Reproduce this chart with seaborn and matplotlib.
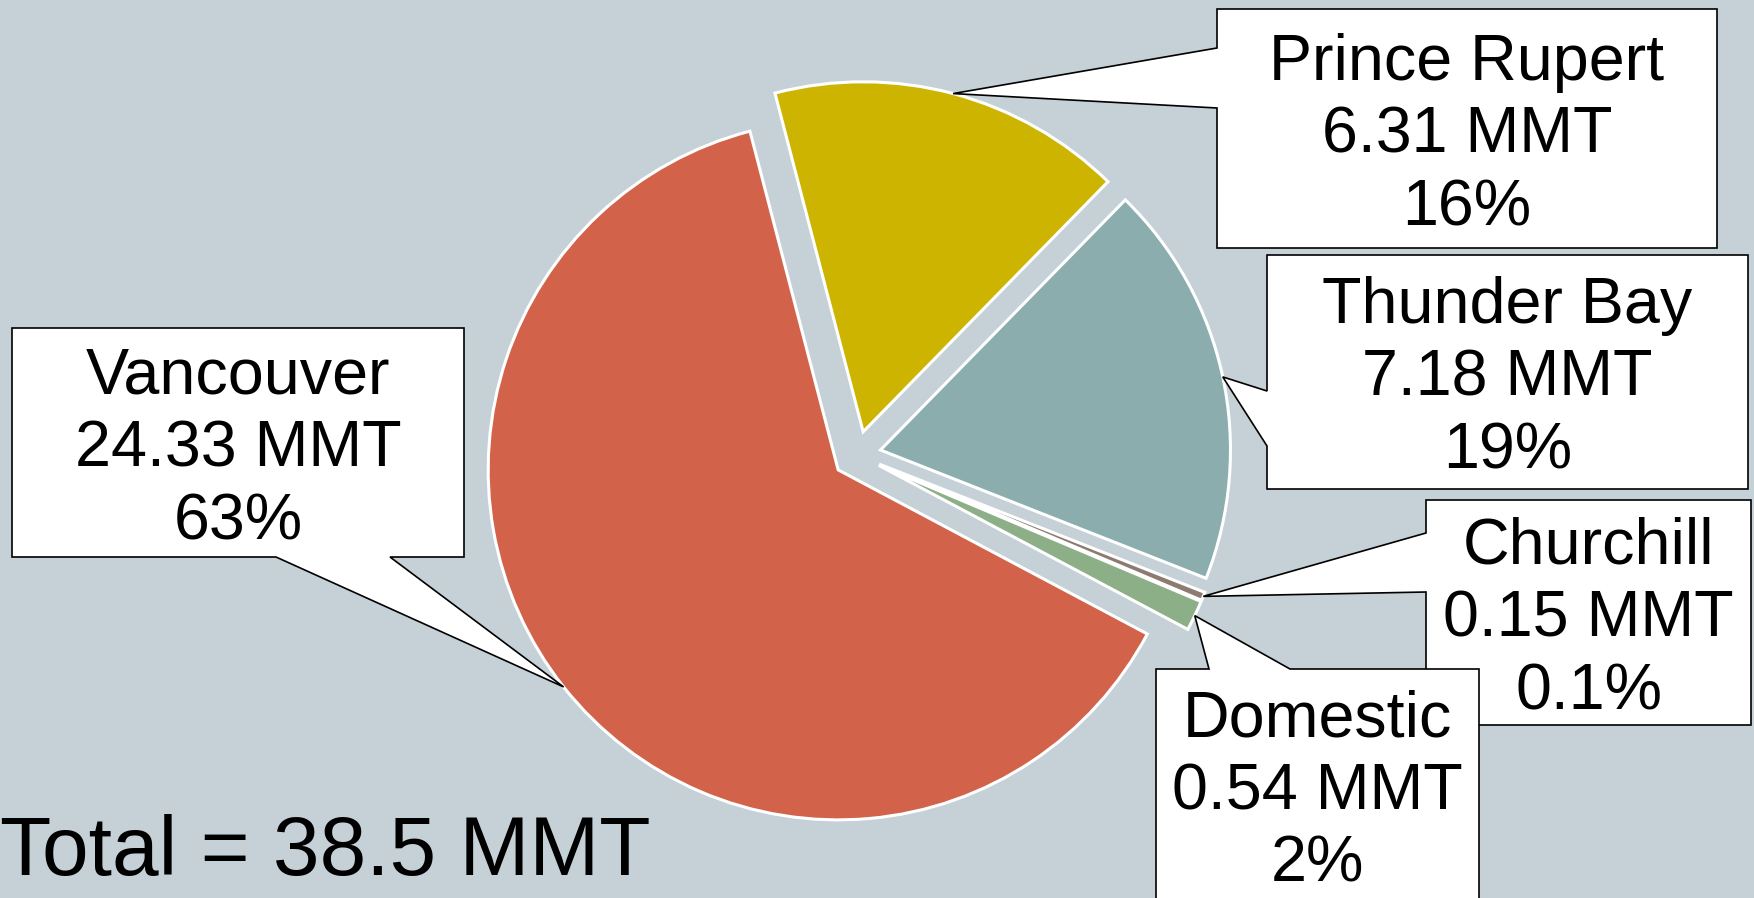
import numpy as np
import matplotlib
matplotlib.use("Agg")
import matplotlib.pyplot as plt
from matplotlib.patches import Polygon
import seaborn as sns

# ---- data ----
ports = ["Vancouver", "Domestic", "Churchill", "Thunder Bay", "Prince Rupert"]
tonnes = [24.33, 0.54, 0.15, 7.18, 6.31]
pct_labels = ["63%", "2%", "0.1%", "19%", "16%"]
total_label = "Total = 38.5 MMT"

# ---- style ----
sns.set_style("white")
plt.rcParams["font.family"] = ["Liberation Sans", "DejaVu Sans"]
BG = "#C5D1D7"
palette = sns.color_palette(["#D2634A", "#8DAF88", "#8C7B70", "#8BADAE", "#CDB400"])

W, H = 1754, 898
fig = plt.figure(figsize=(W / 100, H / 100), dpi=100, facecolor=BG)
ax = fig.add_axes([0, 0, 1, 1])
ax.set_facecolor(BG)

# pie geometry (pixel layout)
cx, cy, R = 857, H - 455, 350
wedges, _ = ax.pie(
    tonnes, explode=[24] * len(tonnes), startangle=104.6, counterclock=True,
    center=(cx, cy), radius=R, colors=palette,
    wedgeprops=dict(edgecolor="white", linewidth=2.2),
)
ax.set_xlim(0, W)
ax.set_ylim(0, H)
ax.set_aspect("auto")
ax.axis("off")

# callout layout in image pixels (x0, y0, x1, y1), pointer side, pointer base positions
layout = {
    "Vancouver": ((12, 328, 464, 557), "bottom", (276, 390)),
    "Prince Rupert": ((1217, 9, 1717, 248), "left", (48, 108)),
    "Thunder Bay": ((1267, 255, 1748, 489), "left", (391, 446)),
    "Churchill": ((1426, 500, 1751, 725), "left", (533, 592)),
    "Domestic": ((1156, 669, 1479, 905), "top", (1209, 1290)),
}
draw_order = ["Vancouver", "Prince Rupert", "Thunder Bay", "Churchill", "Domestic"]

for z, name in enumerate(draw_order):
    i = ports.index(name)
    w = wedges[i]
    mid = np.deg2rad((w.theta1 + w.theta2) / 2)
    tx = w.center[0] + w.r * np.cos(mid)
    ty = w.center[1] + w.r * np.sin(mid)
    (x0, y0, x1, y1), side, (b1, b2) = layout[name]
    Y = lambda v: H - v
    if side == "left":
        pts = [(x0, Y(y0)), (x1, Y(y0)), (x1, Y(y1)), (x0, Y(y1)),
               (x0, Y(b2)), (tx, ty), (x0, Y(b1))]
    elif side == "bottom":
        pts = [(x0, Y(y0)), (x1, Y(y0)), (x1, Y(y1)), (b2, Y(y1)),
               (tx, ty), (b1, Y(y1)), (x0, Y(y1))]
    else:  # top
        pts = [(x0, Y(y0)), (b1, Y(y0)), (tx, ty), (b2, Y(y0)),
               (x1, Y(y0)), (x1, Y(y1)), (x0, Y(y1))]
    ax.add_patch(Polygon(pts, closed=True, facecolor="white", edgecolor="black",
                         linewidth=1.2, joinstyle="miter", zorder=10 + 2 * z))
    label = f"{name}\n{tonnes[i]:.2f} MMT\n{pct_labels[i]}"
    ty_text = min((y0 + y1) / 2 + 7, 792)
    ax.text((x0 + x1) / 2, Y(ty_text), label, ha="center", va="center",
            fontsize=46.5, linespacing=1.27, color="black", zorder=11 + 2 * z)

ax.text(0, H - 875, total_label, ha="left", va="baseline", fontsize=60.5,
        color="black", zorder=30)

fig.savefig("out.png", dpi=100, facecolor=BG)
